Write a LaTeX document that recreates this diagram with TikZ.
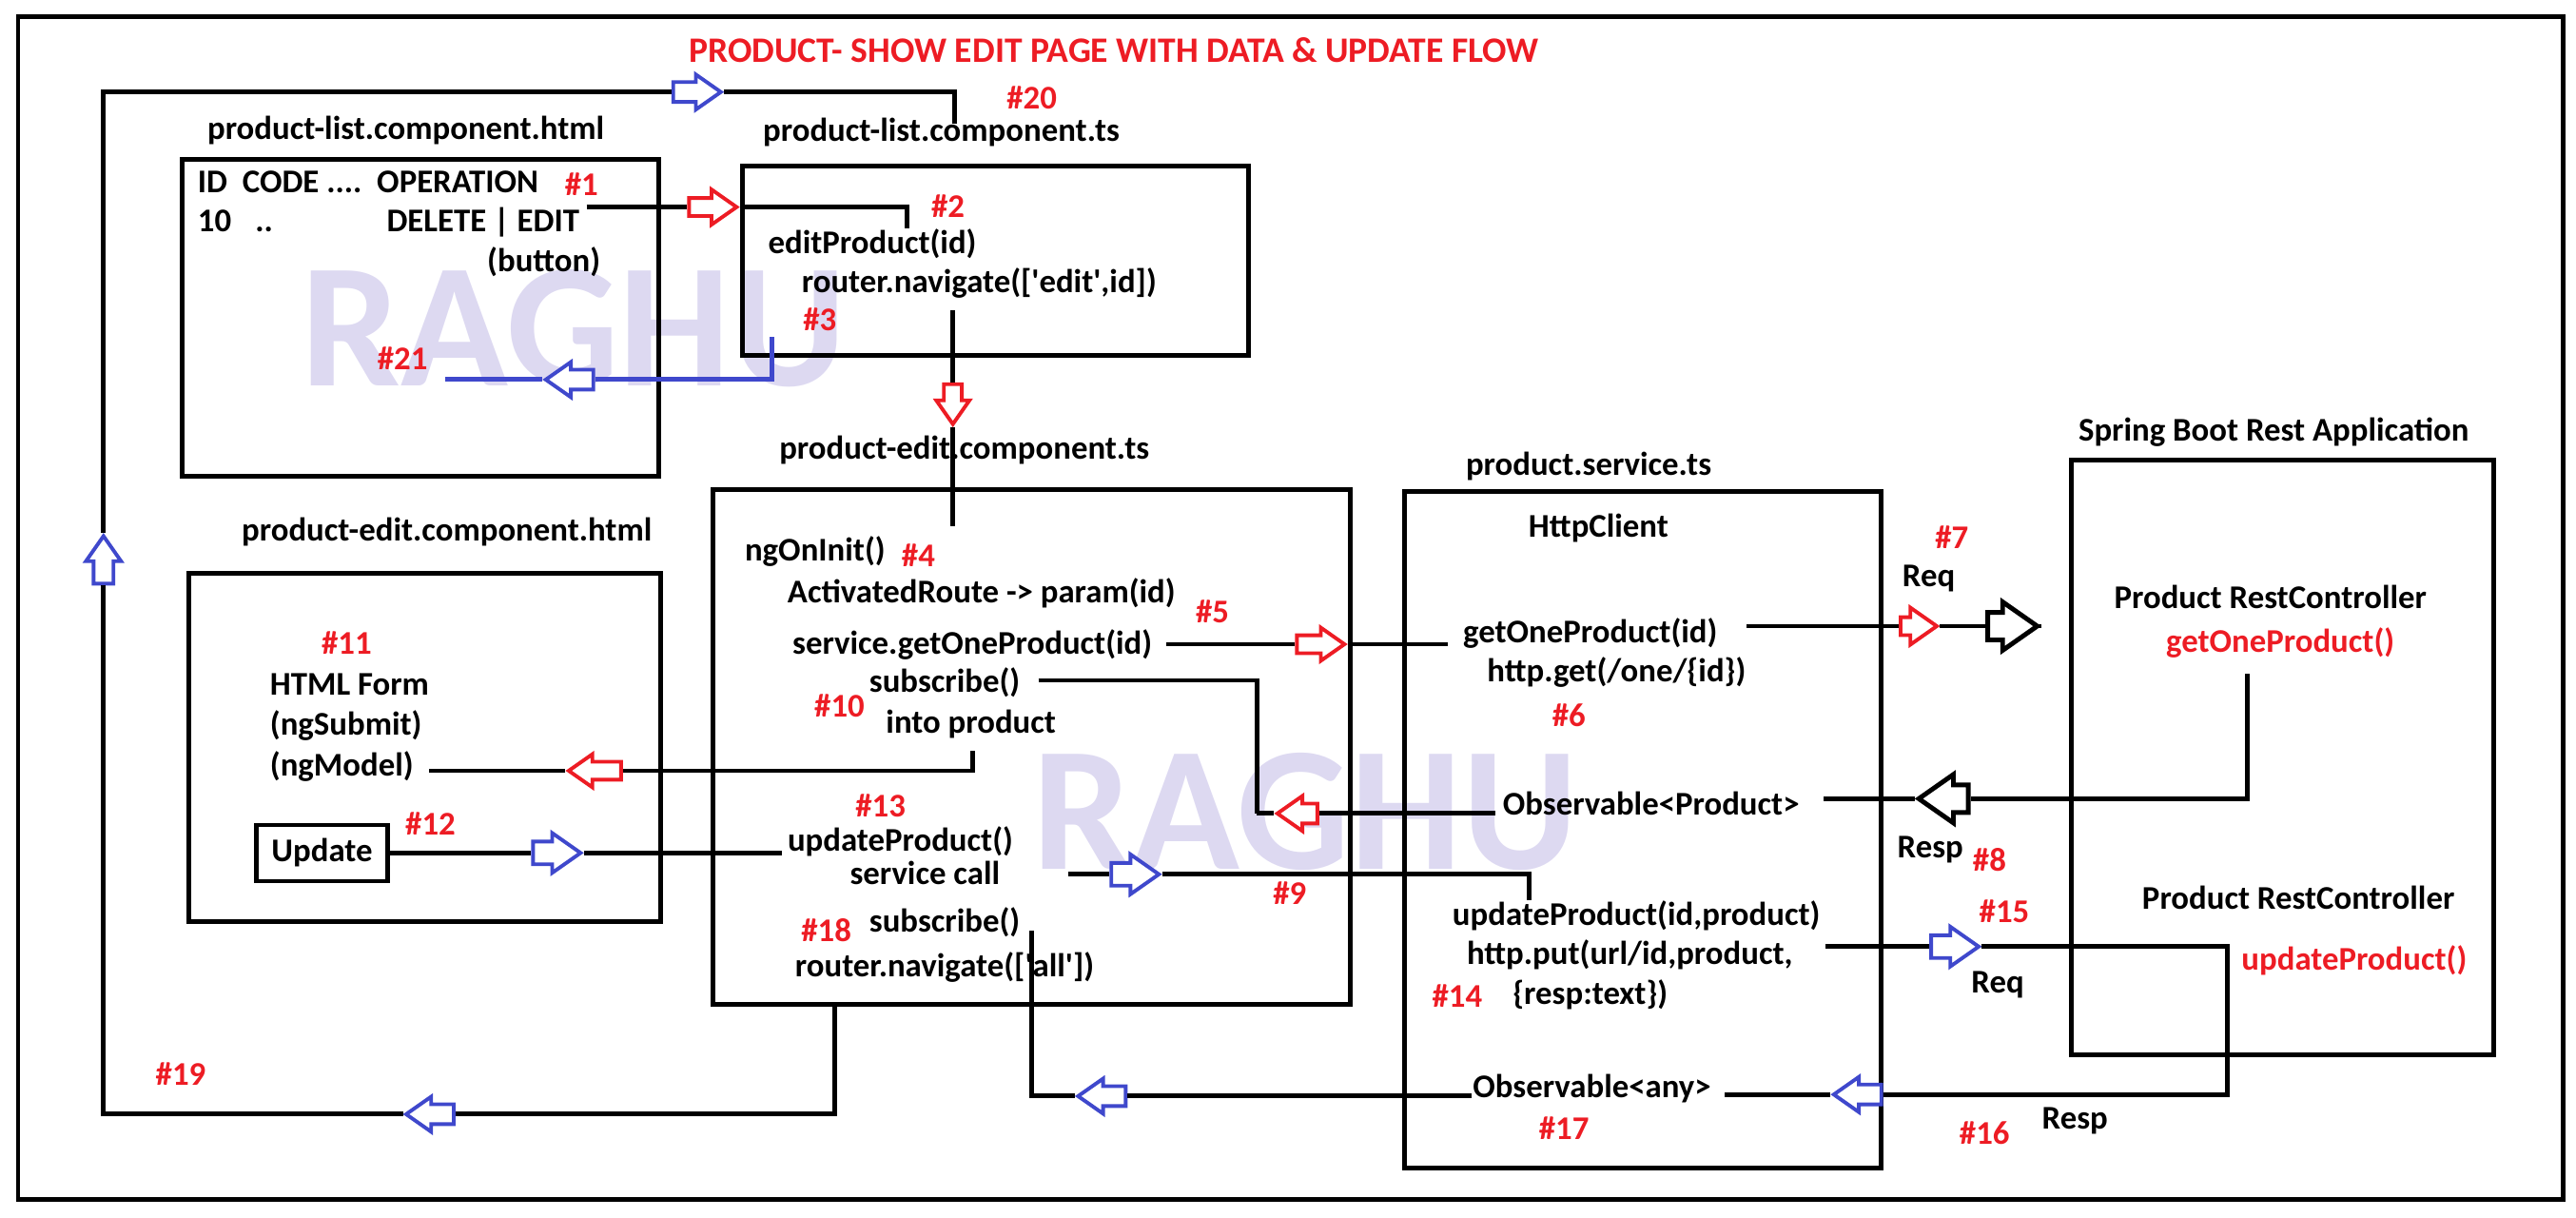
\documentclass[tikz,border=0pt]{standalone}
\usepackage{fontspec}
\setmainfont{Carlito}
\usetikzlibrary{shapes.arrows}
\definecolor{hashred}{RGB}{237,28,36}
\definecolor{flowblue}{RGB}{63,72,204}
\definecolor{raghu}{RGB}{221,217,241}
\tikzset{
	txt/.style={font=\bfseries\fontsize{9.9}{11}\selectfont, inner sep=0pt, text height=7pt, text depth=2pt},
	num/.style={txt, text=hashred},
	raghutxt/.style={font=\bfseries\fontsize{53}{53}\selectfont, text=raghu, inner sep=0pt},
	wire/.style={line width=1.4pt},
	box/.style={line width=1.4pt},
	flow/.style={single arrow, draw=#1, fill=white, line width=1.1pt, inner xsep=0pt, inner ysep=0.085cm, minimum width=0pt, minimum height=0.5cm, single arrow head extend=0.08cm, single arrow tip angle=70},
	bigflow/.style={flow=black, line width=1.4pt, inner ysep=0.12cm, minimum height=0.52cm, single arrow head extend=0.11cm},
	toright/.style={shape border rotate=0},
	toleft/.style={shape border rotate=180},
	toup/.style={shape border rotate=90, inner ysep=0pt, inner xsep=0.085cm},
	todown/.style={shape border rotate=270, inner ysep=0pt, inner xsep=0.085cm}
}
\begin{document}
\begin{tikzpicture}[x=0.1727mm, y=-0.1727mm]
\useasboundingbox (0, 0) rectangle (1568, 741);
\node[raghutxt, anchor=west] (wm1)at(183, 200) {RAGHU};
\node[raghutxt, anchor=west] (wm2)at(628, 494) {RAGHU};
\draw[box] (11, 10) rectangle (1560, 730);
\node[txt, text=hashred, font=\bfseries\fontsize{10.7}{12}\selectfont, anchor=west] (title)at(419, 33) {PRODUCT- SHOW EDIT PAGE WITH DATA \& UPDATE FLOW};

\draw[box] (111, 97) rectangle (401, 290);
\draw[box] (452, 101) rectangle (760, 216);
\draw[box] (434, 298) rectangle (822, 611);
\draw[box] (115, 349) rectangle (402, 561);
\draw[box] (855, 299) rectangle (1145, 711);
\draw[box] (1261, 280) rectangle (1518, 642);

\node[txt] (listhtml)at(247, 80) {product-list.component.html};
\node[txt] (listts)at(573, 81) {product-list.component.ts};
\node[txt] (edits)at(587, 274) {product-edit.component.ts};
\node[txt] (edithtml)at(272, 324) {product-edit.component.html};
\node[txt] (servts)at(967, 284) {product.service.ts};
\node[txt] (spring)at(1384, 263) {Spring Boot Rest Application};

\node[txt, anchor=west] (thead)at(120, 112) {ID\ \ CODE ....\ \ OPERATION};
\node[num] (n1)at(354, 114) {\#1};
\node[txt, anchor=west] (trow)at(120, 136) {10};
\node[txt, anchor=west] (tdots)at(155, 136) {..};
\node[txt, anchor=west] (tops)at(235, 136) {DELETE | EDIT};
\node[txt] (tbtn)at(331, 160) {(button)};
\node[num] (n2)at(577, 127) {\#2};
\node[txt] (editfn)at(531, 149) {editProduct(id)};
\node[txt] (navedit)at(596, 173) {router.navigate([\textquotesingle edit\textquotesingle,id])};
\node[num] (n3)at(499, 196) {\#3};
\node[num] (n21)at(245, 220) {\#21};
\node[num] (n20)at(628, 61) {\#20};

\node[txt, anchor=west] (oninit)at(453, 336) {ngOnInit()};
\node[num] (n4)at(559, 340) {\#4};
\node[txt, anchor=west] (route)at(479, 362) {ActivatedRoute -> param(id)};
\node[num] (n5)at(738, 374) {\#5};
\node[txt, anchor=west] (sgetone)at(482, 393) {service.getOneProduct(id)};
\node[txt] (subs1)at(575, 416) {subscribe()};
\node[num] (n10)at(511, 431) {\#10};
\node[txt] (intoprod)at(591, 441) {into product};
\node[num] (n13)at(536, 492) {\#13};
\node[txt] (updfn)at(548, 513) {updateProduct()};
\node[txt] (servcall)at(563, 533) {service call};
\node[num] (n9)at(785, 545) {\#9};
\node[num] (n18)at(503, 568) {\#18};
\node[txt] (subs2)at(575, 562) {subscribe()};
\node[txt] (navall)at(575, 589) {router.navigate([\textquotesingle all\textquotesingle])};
\node[num] (n19)at(110, 655) {\#19};

\node[num] (n11)at(211, 393) {\#11};
\node[txt, anchor=west] (form)at(164, 418) {HTML Form};
\node[txt, anchor=west] (ngsub)at(164, 442) {(ngSubmit)};
\node[txt, anchor=west] (ngmod)at(164, 467) {(ngModel)};
\node[num] (n12)at(262, 503) {\#12};
\node[txt, draw, line width=1.2pt, minimum width=13.8mm, minimum height=5.9mm, text height=, text depth=] (updbtn)at(196, 519) {Update};

\node[txt] (http)at(973, 322) {HttpClient};
\node[txt] (getone)at(968, 386) {getOneProduct(id)};
\node[txt] (httpget)at(984, 410) {http.get(/one/\{id\})};
\node[num] (n6)at(955, 437) {\#6};
\node[txt] (obsprod)at(1005, 491) {Observable<Product>};
\node[txt] (updsrv)at(996, 558) {updateProduct(id,product)};
\node[txt] (httpput)at(992, 582) {http.put(url/id,product,};
\node[num] (n14)at(887, 608) {\#14};
\node[txt] (resptext)at(968, 606) {\{resp:text\})};
\node[txt] (obsany)at(969, 663) {Observable<any>};
\node[num] (n17)at(952, 688) {\#17};

\node[num] (n7)at(1188, 329) {\#7};
\node[txt] (req1)at(1174, 352) {Req};
\node[txt] (resp1)at(1175, 517) {Resp};
\node[num] (n8)at(1211, 525) {\#8};
\node[num] (n15)at(1220, 556) {\#15};
\node[txt] (req2)at(1216, 599) {Req};
\node[num] (n16)at(1208, 691) {\#16};
\node[txt] (resp2)at(1263, 682) {Resp};
\node[txt] (ctrl1)at(1382, 365) {Product RestController};
\node[num] (rget)at(1388, 392) {getOneProduct()};
\node[txt] (ctrl2)at(1399, 548) {Product RestController};
\node[num] (rupd)at(1433, 585) {updateProduct()};

\coordinate (c1s) at (357, 126);
\coordinate (c1e) at (552, 139);
\node[flow=hashred, toright, inner ysep=0.075cm, single arrow head extend=0.09cm] (ar1)at(430, 126) {};
\draw[wire] (c1s) -- (ar1.tail);
\draw[wire] (ar1.tip) -| (c1e);

\coordinate (c3s) at (580, 189);
\coordinate (c3e) at (580, 320);
\node[flow=hashred, todown, minimum height=0.42cm, inner xsep=0.075cm] (ar3)at(580, 242) {};
\draw[wire] (c3s) -- (ar3.tail);
\draw[wire] (ar3.tip) -- (c3e);

\coordinate (c21s) at (470, 205);
\coordinate (c21e) at (271, 231);
\node[flow=flowblue, toleft] (ar21)at(351, 231) {};
\draw[wire, flowblue] (c21s) |- (ar21.tail);
\draw[wire, flowblue] (ar21.tip) -- (c21e);

\coordinate (c19s) at (508, 611);
\coordinate (c20e) at (581, 75);
\node[flow=flowblue, toleft] (ar19)at(266, 678) {};
\node[flow=flowblue, toup] (ar19u)at(63, 345) {};
\node[flow=flowblue, toright] (ar20)at(420, 56) {};
\draw[wire] (c19s) |- (ar19.tail);
\draw[wire] (ar19.tip) -| (ar19u.tail);
\draw[wire] (ar19u.tip) |- (ar20.tail);
\draw[wire] (ar20.tip) -| (c20e);

\coordinate (c5s) at (710, 392);
\coordinate (c5e) at (881, 392);
\node[flow=hashred, toright, inner ysep=0.075cm] (ar5)at(800, 392) {};
\draw[wire] (c5s) -- (ar5.tail);
\draw[wire] (ar5.tip) -- (c5e);

\coordinate (c7s) at (1063, 381);
\coordinate (c7e) at (1240, 381);
\node[flow=hashred, toright, minimum height=0.38cm, inner ysep=0.075cm, single arrow head extend=0.1cm] (ar7)at(1164, 381) {};
\node[bigflow, toright] (ar7b)at(1219, 381) {};
\draw[wire] (c7s) -- (ar7.tail);
\draw[wire] (ar7.tip) -- (ar7b.tail);
\draw[wire] (ar7b.tip) -- (c7e);

\coordinate (c8s) at (1368, 410);
\coordinate (c8e) at (1110, 486);
\node[bigflow, toleft] (ar8)at(1189, 486) {};
\draw[wire] (c8s) |- (ar8.tail);
\draw[wire] (ar8.tip) -- (c8e);

\coordinate (c10s) at (910, 495);
\coordinate (c10m) at (765, 495);
\coordinate (c10a) at (632, 414);
\node[flow=hashred, toleft, minimum height=0.42cm] (ar10)at(794, 495) {};
\draw[wire] (c10s) -- (ar10.tail);
\draw[wire] (ar10.tip) -- (c10m);
\draw[wire] (c10a) -| (c10m);

\coordinate (c11s) at (592, 457);
\coordinate (c11e) at (261, 469);
\node[flow=hashred, toleft, inner ysep=0.075cm, minimum height=0.55cm] (ar11)at(366, 469) {};
\draw[wire] (c11s) |- (ar11.tail);
\draw[wire] (ar11.tip) -- (c11e);

\coordinate (c12e) at (476, 519);
\node[flow=flowblue, toright, inner ysep=0.1cm, single arrow head extend=0.09cm] (ar12)at(334, 519) {};
\draw[wire] (updbtn.east) -- (ar12.tail);
\draw[wire] (ar12.tip) -- (c12e);

\coordinate (c9s) at (650, 532);
\coordinate (c9e) at (931, 548);
\node[flow=flowblue, toright, inner ysep=0.1cm, single arrow head extend=0.09cm] (ar9)at(686, 532) {};
\draw[wire] (c9s) -- (ar9.tail);
\draw[wire] (ar9.tip) -| (c9e);

\coordinate (c15s) at (1111, 576);
\coordinate (c16c) at (1356, 666);
\coordinate (c16e) at (1050, 666);
\node[flow=flowblue, toright, inner ysep=0.1cm, single arrow head extend=0.09cm] (ar15)at(1185, 576) {};
\node[flow=flowblue, toleft] (ar16)at(1135, 666) {};
\draw[wire] (c15s) -- (ar15.tail);
\draw[wire] (ar15.tip) -| (c16c) -- (ar16.tail);
\draw[wire] (ar16.tip) -- (c16e);

\coordinate (c17s) at (896, 667);
\coordinate (c17e) at (628, 566);
\node[flow=flowblue, toleft] (ar17)at(675, 667) {};
\draw[wire] (c17s) -- (ar17.tail);
\draw[wire] (ar17.tip) -| (c17e);
\end{tikzpicture}
\end{document}
